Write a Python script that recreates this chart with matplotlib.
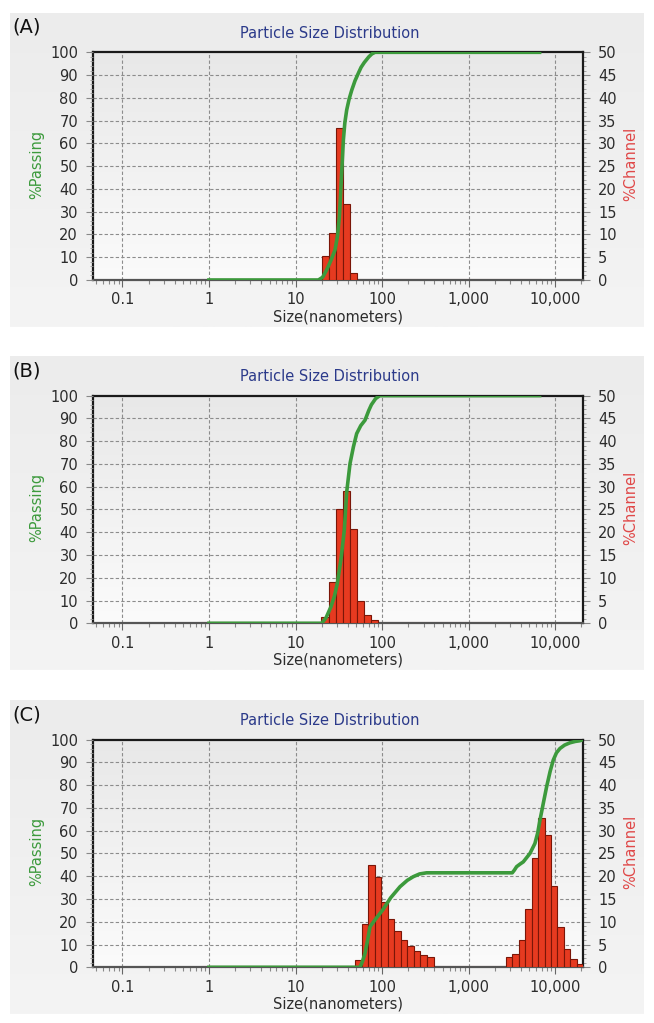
import numpy as np
import matplotlib
matplotlib.use("Agg")
import matplotlib.pyplot as plt
from matplotlib.patches import FancyBboxPatch
from matplotlib.ticker import FixedLocator, MultipleLocator, NullFormatter

# ---------------- data ----------------
panel_labels = ["(A)", "(B)", "(C)"]
title = "Particle Size Distribution"
xlabel = "Size(nanometers)"
xticks = [0.1, 1, 10, 100, 1000, 10000]
xticklabels = ["0.1", "1", "10", "100", "1,000", "10,000"]

# histogram bin edges (nm) and %Channel heights
edges_A = [20.2, 24.3, 29.3, 35.3, 42.4, 51.2]
chan_A = [5.2, 10.3, 33.3, 16.7, 1.5]

edges_B = [19.5, 24.3, 29.3, 35.3, 42.4, 51.2, 61.6, 74.3, 89.5]
chan_B = [1.4, 9.0, 25.0, 29.1, 20.8, 4.9, 1.8, 0.7]

edges_C1 = [48.5, 58.4, 68.6, 82.6, 97.7, 115.7, 138, 163.6, 195, 231, 275, 329, 393]
chan_C1 = [1.6, 9.5, 22.5, 19.9, 14.3, 10.6, 8.0, 6.1, 4.6, 3.5, 2.6, 2.2]
edges_C2 = [2690, 3155, 3770, 4490, 5320, 6295, 7520, 8895, 10520, 12570, 14860, 17740, 21000]
chan_C2 = [2.2, 2.9, 5.9, 12.8, 23.9, 32.7, 29.1, 17.9, 8.8, 4.1, 1.9, 0.7]

# %Passing curves (nm, %)
pass_A_x = [0.95, 18.3, 20.5, 22.8, 25.5, 28.5, 30.5, 32, 33, 34, 35.6, 37, 38.9, 41.5,
            44.5, 48.5, 53, 57, 62, 70, 76, 82.6, 6900]
pass_A_y = [0, 0, 1.2, 4.4, 8.5, 13.2, 19.5, 27.8, 37, 46.9, 61.5, 69, 74.7, 79.5,
            83.4, 87.5, 90.8, 93.4, 95.5, 98, 99.3, 100, 100]

pass_B_x = [0.95, 20, 22.5, 25.6, 28, 30.3, 33.5, 36.5, 38.9, 42.5, 46.5, 50.7, 56.5,
            63.3, 70, 75, 84, 94, 6900]
pass_B_y = [0, 0, 2.5, 7.3, 11.8, 17.5, 28.5, 40.9, 57.7, 70.2, 77.5, 83.3, 86.8,
            89.2, 93.5, 96, 98.7, 100, 100]

pass_C_x = [0.95, 55.4, 59, 63.3, 67.5, 72.3, 85, 101, 125, 160.6, 195, 228.6, 270, 326,
            3180, 3350, 3570, 3900, 4260, 5090, 5810, 6250, 6640, 7300, 7930, 8700,
            9460, 10300, 11300, 12800, 14750, 17000, 19230, 20700]
pass_C_y = [0, 0, 2.5, 6.1, 11.5, 17.8, 21.5, 25.1, 30.5, 35.4, 38.2, 39.8, 41.0, 41.5,
            41.5, 42.6, 44.2, 45.3, 46.3, 50, 54.4, 59, 64.6, 72.5, 79.3, 86, 91,
            94.2, 96.1, 97.6, 98.6, 99.2, 99.5, 100]

# red zero line range (nm)
base_A = [0.8, 6900]
base_B = [0.8, 6900]
base_C = [0.8, 21000]

panels = [
    dict(label=panel_labels[0], hists=[(edges_A, chan_A)], px=pass_A_x, py=pass_A_y, base=base_A),
    dict(label=panel_labels[1], hists=[(edges_B, chan_B)], px=pass_B_x, py=pass_B_y, base=base_B),
    dict(label=panel_labels[2], hists=[(edges_C1, chan_C1), (edges_C2, chan_C2)],
         px=pass_C_x, py=pass_C_y, base=base_C),
]

# ---------------- styling ----------------
W, H = 654, 1023
fig = plt.figure(figsize=(W / 100, H / 100), dpi=100)
fig.patch.set_facecolor("white")
plt.rcParams["font.family"] = ["DejaVu Sans"]

GREEN = "#3c9a3c"
RED = "#e63a20"
REDEDGE = "#7a1608"
TXT = "#2c2c2c"
NAVY = "#2b3a8a"

ax_left, ax_right = 93.3, 582.7
tops = [52.3, 395.6, 739.6]
ax_h = 227.7
panel_tops = [13, 356, 700]
panel_h = 314

grad = np.linspace(0, 1, 256).reshape(-1, 1)
cmap_bg = matplotlib.colors.LinearSegmentedColormap.from_list("g", ["#e8e8e8", "#fbfbfb"])
cmap_panel = matplotlib.colors.LinearSegmentedColormap.from_list("p", ["#ececec", "#f4f4f4"])

for i, p in enumerate(panels):
    top = tops[i]
    # panel background (slight vertical gradient)
    prect = [10 / W, 1 - (panel_tops[i] + panel_h) / H, 634 / W, panel_h / H]
    pb = fig.add_axes(prect, zorder=0)
    pb.imshow(grad, cmap=cmap_panel, aspect="auto", extent=(0, 1, 0, 1))
    pb.set_axis_off()

    rect = [ax_left / W, 1 - (top + ax_h) / H, (ax_right - ax_left) / W, ax_h / H]

    # gradient background of plot area
    bg = fig.add_axes(rect, zorder=1)
    bg.imshow(grad, cmap=cmap_bg, aspect="auto", extent=(0, 1, 0, 1))
    bg.set_axis_off()

    # histogram axis (%Channel, right side)
    ax = fig.add_axes(rect, zorder=2)
    ax.patch.set_visible(False)
    ax.set_xscale("log")
    ax.set_xlim(0.046, 20700)
    ax.set_ylim(0, 50)

    # %Passing axis (left side), drawn on top
    ax2 = ax.twinx()
    ax2.set_zorder(3)
    ax2.patch.set_visible(False)

    # grid
    for xv in xticks:
        ax.axvline(xv, color="#8c8c8c", lw=0.8, ls=(0, (3, 2)), zorder=1)
    for yv in range(5, 50, 5):
        ax.axhline(yv, color="#8c8c8c", lw=0.8, ls=(0, (3, 2)), zorder=1)

    ax.plot(p["base"], [0, 0], color="#e0504a", lw=2.2, zorder=2, solid_capstyle="butt")
    for edges, vals in p["hists"]:
        e = np.array(edges)
        ax.bar(e[:-1], vals, width=np.diff(e), align="edge",
               color=RED, edgecolor=REDEDGE, linewidth=0.8, zorder=3)

    ax.yaxis.set_ticks_position("right")
    ax.set_yticks(range(0, 51, 5))
    ax.yaxis.set_minor_locator(MultipleLocator(1))
    ax.set_xticks(xticks)
    ax.set_xticklabels(xticklabels)
    ax.xaxis.set_minor_locator(FixedLocator(
        [m * 10.0 ** d for d in range(-2, 5) for m in range(2, 10)]))
    ax.xaxis.set_minor_formatter(NullFormatter())
    ax.tick_params(axis="x", which="major", direction="out", length=5, width=0.8,
                   color="#666666", labelsize=10.5, labelcolor=TXT, pad=4)
    ax.tick_params(axis="x", which="minor", direction="out", length=3, width=0.8,
                   color="#888888")
    ax.tick_params(axis="y", which="major", direction="out", length=5, width=0.8,
                   color="#888888", labelsize=10.5, labelcolor=TXT, pad=6,
                   left=False, labelleft=False, right=True, labelright=True)
    ax.tick_params(axis="y", which="minor", direction="out", length=2.5, width=0.6,
                   color="#999999", left=False, right=True)

    for s in ["left", "top", "right"]:
        ax.spines[s].set_color("#1a1a1a")
        ax.spines[s].set_linewidth(1.6)
    ax.spines["bottom"].set_color("#555555")
    ax.spines["bottom"].set_linewidth(1.6)

    ax2.set_ylim(0, 100)
    ax2.set_yticks(range(0, 101, 10))
    ax2.yaxis.set_minor_locator(MultipleLocator(2))
    ax2.tick_params(axis="y", which="major", direction="out", length=5, width=0.8,
                    color="#888888", labelsize=10.5, labelcolor=TXT, pad=6,
                    left=True, labelleft=True, right=False, labelright=False)
    ax2.tick_params(axis="y", which="minor", direction="out", length=2.5, width=0.6,
                    color="#999999", left=True, right=False)
    for s in ax2.spines.values():
        s.set_visible(False)
    ax2.plot(p["px"], p["py"], color=GREEN, lw=2.6, zorder=5,
             solid_joinstyle="round", solid_capstyle="butt")
    ax2.set_xlim(0.046, 20700)

    # texts
    fig.text(12 / W, 1 - (top - 25) / H, p["label"], fontsize=14, color="#111111",
             ha="left", va="center")
    fig.text(329.5 / W, 1 - (top - 19) / H, title, fontsize=10.5, color=NAVY,
             ha="center", va="center")
    fig.text(338 / W, 1 - (top + ax_h + 37) / H, xlabel, fontsize=10.5, color=TXT,
             ha="center", va="center")
    fig.text(37 / W, 1 - (top + 112) / H, "%Passing", fontsize=10.5, color=GREEN,
             rotation=90, ha="center", va="center")
    fig.text(631 / W, 1 - (top + 112) / H, "%Channel", fontsize=10.5, color="#e04848",
             rotation=90, ha="center", va="center")

fig.savefig("out.png", dpi=100, facecolor="white")
